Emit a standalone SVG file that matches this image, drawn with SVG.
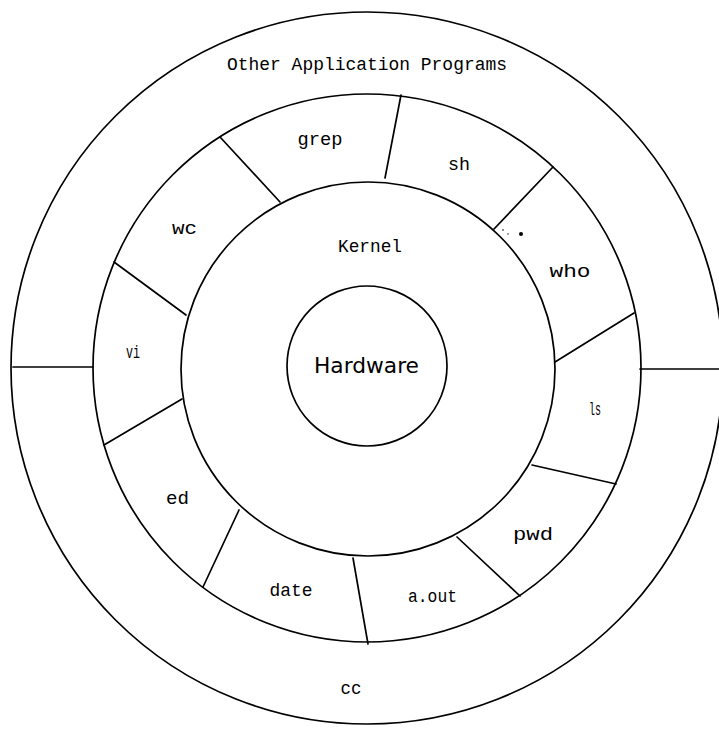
<svg xmlns="http://www.w3.org/2000/svg" width="719" height="729" viewBox="0 0 719 729">
  <style>
    .ring { fill: none; stroke: #000; stroke-width: 1.7; }
    .div { stroke: #000; stroke-width: 1.7; fill: none; stroke-linecap: round; }
    .lbl { font-family: "Liberation Mono", "Courier New", monospace; font-size: 18px; fill: #000; text-anchor: middle; lengthAdjust: spacingAndGlyphs; }
    .hw { font-family: "Comic Sans MS", "DejaVu Sans", sans-serif; font-size: 22px; fill: #000; text-anchor: middle; }
  </style>
  <rect width="719" height="729" fill="#fff"/>

  <!-- concentric layers -->
  <g id="rings">
    <circle id="outer-ring" class="ring" cx="367" cy="368" r="356"/>
    <circle id="apps-ring" class="ring" cx="367" cy="368" r="274"/>
    <circle id="kernel-ring" class="ring" cx="368" cy="369" r="187"/>
    <circle id="hardware-ring" class="ring" cx="367" cy="366" r="80"/>
  </g>

  <!-- dividers between the command segments and the outer layer -->
  <g id="connectors">
    <line class="div" x1="401" y1="95" x2="385" y2="178"/>
    <line class="div" x1="553" y1="167" x2="494" y2="229"/>
    <line class="div" x1="634" y1="313" x2="555" y2="362"/>
    <line class="div" x1="616" y1="484" x2="532" y2="465"/>
    <line class="div" x1="457" y1="537" x2="520" y2="596"/>
    <line class="div" x1="353" y1="558" x2="368" y2="644"/>
    <line class="div" x1="239" y1="510" x2="203" y2="587"/>
    <line class="div" x1="182" y1="399" x2="104" y2="445"/>
    <line class="div" x1="114" y1="262" x2="186" y2="315"/>
    <line class="div" x1="220" y1="137" x2="280" y2="202"/>
    <line class="div" x1="13" y1="367" x2="93" y2="367"/>
    <line class="div" x1="640" y1="369" x2="719" y2="369"/>
  </g>

  <g id="other-apps"><text class="lbl" x="367" y="70" textLength="280" lengthAdjust="spacingAndGlyphs">Other Application Programs</text></g>
  <g id="grep"><text class="lbl" x="320" y="145" textLength="45" lengthAdjust="spacingAndGlyphs">grep</text></g>
  <g id="sh"><text class="lbl" x="459" y="170" textLength="22" lengthAdjust="spacingAndGlyphs">sh</text></g>
  <g id="wc"><text class="lbl" x="184.5" y="234" textLength="25" lengthAdjust="spacingAndGlyphs">wc</text></g>
  <g id="kernel"><text class="lbl" x="370" y="251.5" textLength="64" lengthAdjust="spacingAndGlyphs">Kernel</text></g>
  <g id="who"><text class="lbl" x="570" y="276.5" textLength="41" lengthAdjust="spacingAndGlyphs">who</text></g>
  <g id="vi"><text class="lbl" x="133" y="358" textLength="14" lengthAdjust="spacingAndGlyphs">vi</text></g>
  <g id="hardware"><text class="hw" x="366.5" y="373" textLength="105" lengthAdjust="spacingAndGlyphs">Hardware</text></g>
  <g id="ls"><text class="lbl" x="595" y="415" textLength="12" lengthAdjust="spacingAndGlyphs">ls</text></g>
  <g id="ed"><text class="lbl" x="177.5" y="504" textLength="23" lengthAdjust="spacingAndGlyphs">ed</text></g>
  <g id="pwd"><text class="lbl" x="533" y="540" textLength="40" lengthAdjust="spacingAndGlyphs">pwd</text></g>
  <g id="date"><text class="lbl" x="291" y="595.5" textLength="43" lengthAdjust="spacingAndGlyphs">date</text></g>
  <g id="a-out"><text class="lbl" x="432.5" y="601.5" textLength="49" lengthAdjust="spacingAndGlyphs">a.out</text></g>
  <g id="cc"><text class="lbl" x="351" y="694" textLength="21" lengthAdjust="spacingAndGlyphs">cc</text></g>

  <!-- small ink specks beside the sh/who divider -->
  <g id="specks" fill="#000">
    <circle cx="503" cy="230" r="0.8"/>
    <circle cx="508" cy="234" r="0.7"/>
    <circle cx="521" cy="234" r="2"/>
  </g>
</svg>
